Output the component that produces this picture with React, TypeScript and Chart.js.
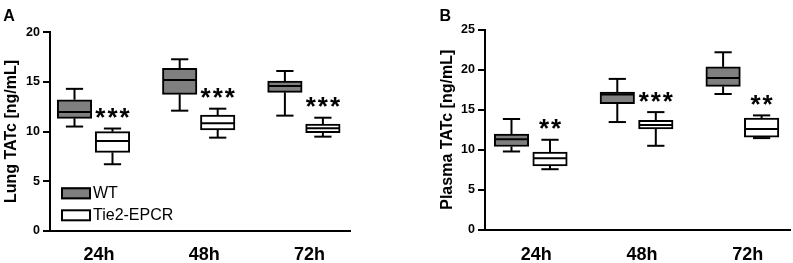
import React, { useEffect, useRef } from 'react';
import { Chart, registerables } from 'chart.js';

Chart.register(...registerables);

const categories = ['24h', '48h', '72h'];
const seriesNames = ['WT', 'Tie2-EPCR'];

// Panel A: Lung TATc [ng/mL]
const lungWTMin = [10.5, 12.1, 11.6];
const lungWTQ1 = [11.33, 13.75, 13.95];
const lungWTMedian = [11.97, 15.19, 14.59];
const lungWTQ3 = [13.2, 16.37, 15.09];
const lungWTMax = [14.3, 17.28, 16.1];
const lungTieMin = [6.7, 9.38, 9.48];
const lungTieQ1 = [7.9, 10.15, 9.88];
const lungTieMedian = [9.04, 10.83, 10.32];
const lungTieQ3 = [9.98, 11.66, 10.76];
const lungTieMax = [10.3, 12.3, 11.39];
const lungSignificance = ['***', '***', '***'];
const lungTicks = [0, 5, 10, 15, 20];

// Panel B: Plasma TATc [ng/mL]
const plasmaWTMin = [9.79, 13.46, 16.96];
const plasmaWTQ1 = [10.41, 15.75, 17.9];
const plasmaWTMedian = [11.33, 16.9, 18.96];
const plasmaWTQ3 = [11.96, 17.2, 20.34];
const plasmaWTMax = [13.84, 18.84, 22.16];
const plasmaTieMin = [7.58, 10.5, 11.46];
const plasmaTieQ1 = [8.0, 12.6, 11.58];
const plasmaTieMedian = [8.96, 13.1, 12.58];
const plasmaTieQ3 = [9.71, 13.66, 13.96];
const plasmaTieMax = [11.25, 14.7, 14.29];
const plasmaSignificance = ['**', '***', '**'];
const plasmaTicks = [0, 5, 10, 15, 20, 25];

const FONT = "'Liberation Sans', Arial, Helvetica, sans-serif";
const WT_FILL = '#7f7f7f';
const TIE_FILL = '#ffffff';

type Series = { name: string; fill: string; min: number[]; q1: number[]; med: number[]; q3: number[]; max: number[] };
type Panel = {
  letter: string; yTitle: string; ticks: number[]; sig: string[]; series: Series[];
  left: number; width: number; padLeft: number; padRight: number; padTop: number;
  yAxisWidth: number; xAxisHeight: number; xMin: number; xMax: number; offset: number;
  titlePad: number; letterX: number; legend: boolean;
};

const panels: Panel[] = [
  {
    letter: 'A', yTitle: 'Lung TATc [ng/mL]', ticks: lungTicks, sig: lungSignificance,
    series: [
      { name: seriesNames[0], fill: WT_FILL, min: lungWTMin, q1: lungWTQ1, med: lungWTMedian, q3: lungWTQ3, max: lungWTMax },
      { name: seriesNames[1], fill: TIE_FILL, min: lungTieMin, q1: lungTieQ1, med: lungTieMedian, q3: lungTieQ3, max: lungTieMax },
    ],
    left: 0, width: 400, padLeft: 0, padRight: 50, padTop: 32.3, yAxisWidth: 50, xAxisHeight: 32.3,
    xMin: -0.4135, xMax: 2.4383, offset: 0.1806, titlePad: 1.5, letterX: 3.3, legend: true,
  },
  {
    letter: 'B', yTitle: 'Plasma TATc [ng/mL]', ticks: plasmaTicks, sig: plasmaSignificance,
    series: [
      { name: seriesNames[0], fill: WT_FILL, min: plasmaWTMin, q1: plasmaWTQ1, med: plasmaWTMedian, q3: plasmaWTQ3, max: plasmaWTMax },
      { name: seriesNames[1], fill: TIE_FILL, min: plasmaTieMin, q1: plasmaTieQ1, med: plasmaTieMedian, q3: plasmaTieQ3, max: plasmaTieMax },
    ],
    left: 400, width: 393, padLeft: 36, padRight: 3, padTop: 29.5, yAxisWidth: 49, xAxisHeight: 33,
    xMin: -0.4324, xMax: 2.4504, offset: 0.182, titlePad: 2.4, letterX: 39.5, legend: false,
  },
];

function line(ctx: CanvasRenderingContext2D, x1: number, y1: number, x2: number, y2: number) {
  ctx.beginPath();
  ctx.moveTo(x1, y1);
  ctx.lineTo(x2, y2);
  ctx.stroke();
}

function makePlugin(p: Panel) {
  return {
    id: 'boxExtras',
    afterDatasetsDraw(chart: any) {
      const ctx: CanvasRenderingContext2D = chart.ctx;
      const y = chart.scales.y;
      ctx.save();
      ctx.strokeStyle = '#000';
      ctx.lineWidth = 2;
      p.series.forEach((s, d) => {
        const meta = chart.getDatasetMeta(d);
        meta.data.forEach((el: any, i: number) => {
          const { x, width } = el.getProps(['x', 'width'], true);
          const pMin = y.getPixelForValue(s.min[i]);
          const pQ1 = y.getPixelForValue(s.q1[i]);
          const pMed = y.getPixelForValue(s.med[i]);
          const pQ3 = y.getPixelForValue(s.q3[i]);
          const pMax = y.getPixelForValue(s.max[i]);
          line(ctx, x, pQ3, x, pMax);
          line(ctx, x - width / 4, pMax, x + width / 4, pMax);
          line(ctx, x, pQ1, x, pMin);
          line(ctx, x - width / 4, pMin, x + width / 4, pMin);
          line(ctx, x - width / 2 + 1, pMed, x + width / 2 - 1, pMed);
        });
      });
      // significance stars above the Tie2-EPCR boxes
      const tie = p.series[1];
      const tieMeta = chart.getDatasetMeta(1);
      const fs = 26;
      ctx.fillStyle = '#000';
      ctx.font = `bold ${fs}px ${FONT}`;
      (ctx as any).letterSpacing = '2px';
      ctx.textAlign = 'center';
      ctx.textBaseline = 'alphabetic';
      tieMeta.data.forEach((el: any, i: number) => {
        const { x } = el.getProps(['x'], true);
        const cy = y.getPixelForValue(tie.max[i]) - 16;
        ctx.fillText(p.sig[i], x + 1, cy + 0.52 * fs);
      });
      (ctx as any).letterSpacing = '0px';
      ctx.restore();
    },
    afterDraw(chart: any) {
      const ctx: CanvasRenderingContext2D = chart.ctx;
      const area = chart.chartArea;
      ctx.save();
      ctx.fillStyle = '#000';
      ctx.font = `bold 16px ${FONT}`;
      ctx.textAlign = 'left';
      ctx.textBaseline = 'alphabetic';
      ctx.fillText(p.letter, p.letterX, 20.7);
      if (p.legend) {
        ctx.font = `16px ${FONT}`;
        ctx.textBaseline = 'middle';
        chart.data.datasets.forEach((ds: any, d: number) => {
          const bx = area.left + 11;
          const by = area.top + 155 + d * 22;
          ctx.fillStyle = ds.backgroundColor;
          ctx.fillRect(bx, by, 30, 12);
          ctx.strokeStyle = '#000';
          ctx.lineWidth = 2;
          ctx.strokeRect(bx + 1, by + 1, 28, 10);
          ctx.fillStyle = '#000';
          ctx.fillText(ds.label, bx + 32, by + 6.5);
        });
      }
      ctx.restore();
    },
  };
}

function buildConfig(p: Panel): any {
  const yMax = p.ticks[p.ticks.length - 1];
  return {
    type: 'bar',
    data: {
      datasets: p.series.map((s, d) => ({
        label: s.name,
        data: categories.map((_, i) => ({ x: i + (d === 0 ? -p.offset : p.offset), y: [s.q1[i], s.q3[i]] })),
        backgroundColor: s.fill,
        borderColor: '#000',
        borderWidth: 2,
        borderSkipped: false,
        barThickness: 34.5,
        grouped: false,
      })),
    },
    options: {
      responsive: false,
      animation: false,
      events: [],
      layout: { padding: { left: p.padLeft, right: p.padRight, top: p.padTop, bottom: 0 } },
      plugins: { legend: { display: false }, tooltip: { enabled: false }, title: { display: false } },
      scales: {
        x: {
          type: 'linear',
          offset: false,
          min: p.xMin,
          max: p.xMax,
          afterBuildTicks: (sc: any) => { sc.ticks = categories.map((_, i) => ({ value: i })); },
          afterFit: (sc: any) => { sc.height = p.xAxisHeight; },
          grid: { display: false, drawTicks: false },
          border: { display: true, color: '#000', width: 2 },
          ticks: {
            callback: (v: number) => categories[Math.round(v)] ?? '',
            font: { family: FONT, size: 18, weight: 'bold' },
            color: '#000',
            padding: 14,
            labelOffset: 5.5,
            maxRotation: 0,
            autoSkip: false,
          },
        },
        y: {
          type: 'linear',
          min: 0,
          max: yMax,
          afterBuildTicks: (sc: any) => { sc.ticks = p.ticks.map((v) => ({ value: v })); },
          afterFit: (sc: any) => { sc.width = p.yAxisWidth; },
          grid: { drawOnChartArea: false, drawTicks: true, tickLength: 7, color: '#000', lineWidth: 2 },
          border: { display: true, color: '#000', width: 2 },
          ticks: { font: { family: FONT, size: 12.5, weight: 'bold' }, color: '#000', padding: 3 },
          title: {
            display: true,
            text: p.yTitle,
            color: '#000',
            font: { family: FONT, size: 16, weight: 'bold' },
            padding: { top: p.titlePad, bottom: 0 },
          },
        },
      },
    },
    plugins: [makePlugin(p)],
  };
}

function PanelChart({ p }: { p: Panel }) {
  const ref = useRef<HTMLCanvasElement>(null);
  useEffect(() => {
    if (!ref.current) return;
    const chart = new Chart(ref.current, buildConfig(p));
    return () => chart.destroy();
  }, [p]);
  return (
    <div style={{ position: 'absolute', left: p.left, top: 0, width: p.width, height: 263 }}>
      <canvas ref={ref} width={p.width} height={263} style={{ display: 'block', width: p.width, height: 263 }} />
    </div>
  );
}

export default function App() {
  return (
    <div style={{ position: 'absolute', left: 0, top: 0, width: 793, height: 263, background: '#fff' }}>
      {panels.map((p) => (
        <PanelChart key={p.letter} p={p} />
      ))}
    </div>
  );
}
